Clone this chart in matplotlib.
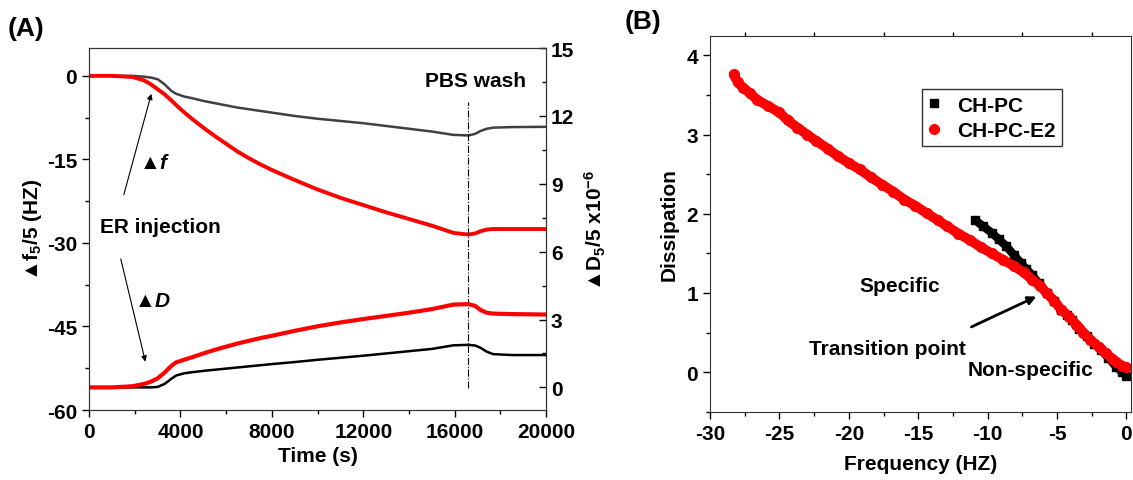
import matplotlib
matplotlib.use("Agg")
import matplotlib.pyplot as plt

plt.rcParams['font.family'] = ['Liberation Sans', 'DejaVu Sans']
plt.rcParams['font.weight'] = 'bold'
plt.rcParams['axes.labelweight'] = 'bold'
plt.rcParams['font.size'] = 15
plt.rcParams['axes.unicode_minus'] = False
plt.rcParams['mathtext.fontset'] = 'custom'
plt.rcParams['mathtext.rm'] = 'Liberation Sans:bold'
plt.rcParams['mathtext.it'] = 'Liberation Sans:bold:italic'
plt.rcParams['mathtext.bf'] = 'Liberation Sans:bold'
plt.rcParams['mathtext.default'] = 'rm'

# panel A : QCM-D traces vs time
time_s = [0, 1000, 1900, 2400, 2700, 3000, 3300, 3600, 3800, 4150, 4500, 5000, 5500, 6000,
          6500, 7000, 7500, 8000, 9000, 10000, 11000, 12000, 13000, 14000, 15000,
          15950, 16600, 16900, 17130, 17400, 17680, 18500, 20000]
f_chpc = [0, 0, 0, -0.15, -0.3, -0.6, -1.5, -2.7, -3.2, -3.7, -4.0, -4.5, -4.9, -5.3,
          -5.7, -6.0, -6.3, -6.6, -7.2, -7.7, -8.1, -8.5, -9.0, -9.5, -10.0,
          -10.6, -10.7, -10.4, -9.9, -9.5, -9.3, -9.2, -9.15]
f_e2 = [0, 0, -0.2, -0.8, -1.5, -2.4, -3.3, -4.4, -5.2, -6.5, -7.7, -9.3, -10.8, -12.2,
        -13.6, -14.8, -15.9, -16.9, -18.7, -20.4, -21.9, -23.2, -24.5, -25.7, -26.9,
        -28.2, -28.5, -28.3, -27.9, -27.6, -27.5, -27.5, -27.5]
d_chpc = [0, 0, 0, 0, 0, 0.02, 0.15, 0.38, 0.52, 0.62, 0.67, 0.73, 0.78, 0.83,
          0.88, 0.93, 0.98, 1.03, 1.12, 1.22, 1.31, 1.4, 1.5, 1.6, 1.7,
          1.86, 1.88, 1.85, 1.75, 1.58, 1.47, 1.43, 1.43]
d_e2 = [0, 0, 0.05, 0.15, 0.25, 0.4, 0.65, 0.95, 1.1, 1.22, 1.33, 1.5, 1.66, 1.8,
        1.94, 2.06, 2.18, 2.28, 2.5, 2.7, 2.87, 3.02, 3.16, 3.3, 3.46,
        3.66, 3.68, 3.6, 3.42, 3.3, 3.26, 3.24, 3.22]
wash_time = 16600

# panel B : dissipation vs frequency
freq_e2 = [-28.3, -28.0, -27.6, -27.1, -26.6, -25.8, -25.0, -24.4, -23.7, -23.0, -22.35,
           -21.5, -20.8, -20.0, -19.2, -18.4, -17.6, -16.8, -16.0, -15.2, -14.4, -13.6,
           -12.9, -12.1, -11.3, -10.5, -9.7, -8.9, -8.1, -7.4, -6.8, -6.2, -5.75, -5.2,
           -4.7, -4.1, -3.6, -3.1, -2.6, -2.0, -1.5, -1.0, -0.74, -0.3, 0.0]
diss_e2 = [3.76, 3.66, 3.59, 3.52, 3.44, 3.36, 3.28, 3.18, 3.09, 3.0, 2.92,
           2.82, 2.73, 2.64, 2.56, 2.46, 2.37, 2.28, 2.18, 2.1, 2.01, 1.92,
           1.84, 1.75, 1.67, 1.58, 1.50, 1.42, 1.34, 1.26, 1.17, 1.09, 1.0, 0.9,
           0.79, 0.7, 0.60, 0.5, 0.41, 0.32, 0.24, 0.17, 0.13, 0.08, 0.06]
freq_chpc = [-10.9, -10.3, -9.7, -9.2, -8.65, -8.1, -7.6, -7.2, -6.8, -6.3, -5.75, -5.2,
             -4.7, -4.3, -3.9, -3.4, -2.85, -2.3, -1.8, -1.3, -0.74, -0.3, 0.0]
diss_chpc = [1.92, 1.84, 1.76, 1.68, 1.59, 1.48, 1.38, 1.3, 1.23, 1.12, 1.0, 0.9,
             0.79, 0.72, 0.66, 0.55, 0.45, 0.36, 0.28, 0.18, 0.07, 0.0, -0.05]

fig = plt.figure(figsize=(11.33, 4.81), dpi=100)

# ---------------- (A)
ax1 = fig.add_axes([0.0786, 0.1455, 0.4034, 0.7526])
ax2 = ax1.twinx()
ax1.plot(time_s, f_chpc, color='#404040', lw=1.8)
ax1.plot(time_s, f_e2, color='red', lw=2.8)
ax2.plot(time_s, d_chpc, color='black', lw=1.8)
ax2.plot(time_s, d_e2, color='red', lw=3.0)

ax1.set_xlim(0, 20000)
ax1.set_ylim(-60, 5)
ax2.set_ylim(-1, 15)
ax1.set_xticks([0, 4000, 8000, 12000, 16000, 20000])
ax1.set_xticks(range(2000, 20000, 4000), minor=True)
ax1.set_yticks([0, -15, -30, -45, -60])
ax1.set_yticks([-7.5, -22.5, -37.5, -52.5], minor=True)
ax2.set_yticks([0, 3, 6, 9, 12, 15])
ax2.set_yticks([1.5, 4.5, 7.5, 10.5, 13.5], minor=True)
ax1.tick_params(which='both', direction='out', width=1, top=False)
ax1.tick_params(which='major', length=5)
ax1.tick_params(which='minor', length=3)
ax2.tick_params(which='both', direction='in', width=1)
ax2.tick_params(which='major', length=5)
ax2.tick_params(which='minor', length=3)
for a in (ax1, ax2):
    for s in a.spines.values():
        s.set_color('#333333')
    for lab in a.get_xticklabels() + a.get_yticklabels():
        lab.set_fontweight('bold')

ax1.set_xlabel('Time (s)', labelpad=4)
ax1.set_ylabel('▲f$_5$/5 (HZ)', labelpad=2)
ax2.set_ylabel('▲D$_5$/5 x10$^{-6}$', labelpad=6)

ax1.vlines(wash_time, -56, -4.7, colors='black', linestyles='-.', lw=0.8)
ax1.text(16900, -0.9, 'PBS wash', ha='center', va='center')
ax1.text(480, -27.0, 'ER injection', ha='left', va='center')
ax1.text(2850, -15.5, '▲$\\mathit{f}$', ha='center', va='center')
ax1.text(2800, -40.4, '▲$\\mathit{D}$', ha='center', va='center')
ax1.annotate('', xy=(2757, -2.75), xytext=(1490, -21.8),
             arrowprops=dict(arrowstyle='-|>', color='black', lw=0.8, mutation_scale=8))
ax1.annotate('', xy=(2494, -51.8), xytext=(1360, -32.4),
             arrowprops=dict(arrowstyle='-|>', color='black', lw=0.8, mutation_scale=8))
fig.text(0.007, 0.94, '(A)', fontsize=19, ha='left', va='center')

# ---------------- (B)
ax3 = fig.add_axes([0.6267, 0.142, 0.3717, 0.7817])
ax3.plot(freq_chpc, diss_chpc, color='black', lw=6, solid_capstyle='round')
ax3.plot(freq_chpc, diss_chpc, 's', color='black', ms=6, label='CH-PC')
ax3.plot(freq_e2, diss_e2, color='red', lw=7, solid_capstyle='round')
ax3.plot(freq_e2, diss_e2, 'o', color='red', ms=7, label='CH-PC-E2')

ax3.set_xlim(-30, 0.35)
ax3.set_ylim(-0.5, 4.25)
ax3.set_xticks([-30, -25, -20, -15, -10, -5, 0])
ax3.set_xticks([-27.5, -22.5, -17.5, -12.5, -7.5, -2.5], minor=True)
ax3.set_yticks([0, 1, 2, 3, 4])
ax3.set_yticks([-0.5, 0.5, 1.5, 2.5, 3.5], minor=True)
ax3.tick_params(which='both', direction='out', width=1)
ax3.tick_params(which='major', length=5)
ax3.tick_params(which='minor', length=3)
ax3.tick_params(axis='x', which='minor', top=True)
for s in ax3.spines.values():
    s.set_color('#333333')
for lab in ax3.get_xticklabels() + ax3.get_yticklabels():
    lab.set_fontweight('bold')
ax3.set_xlabel('Frequency (HZ)', labelpad=8)
ax3.set_ylabel('Dissipation', labelpad=6)

ax3.text(-16.3, 1.10, 'Specific', ha='center', va='center')
ax3.text(-17.2, 0.30, 'Transition point', ha='center', va='center')
ax3.text(-6.93, 0.03, 'Non-specific', ha='center', va='center')
ax3.annotate('', xy=(-6.3, 0.97), xytext=(-11.35, 0.556),
             arrowprops=dict(arrowstyle='-|>', color='black', lw=2, mutation_scale=12))

h, l = ax3.get_legend_handles_labels()
ax3.legend(h, l, loc='upper right', bbox_to_anchor=(0.86, 0.885), frameon=True,
           fancybox=False, edgecolor='black', handlelength=0.6, handletextpad=0.8,
           borderpad=0.3, labelspacing=0.3, markerscale=1.0)
fig.text(0.551, 0.955, '(B)', fontsize=19, ha='left', va='center')

fig.savefig('out.png', dpi=100)
